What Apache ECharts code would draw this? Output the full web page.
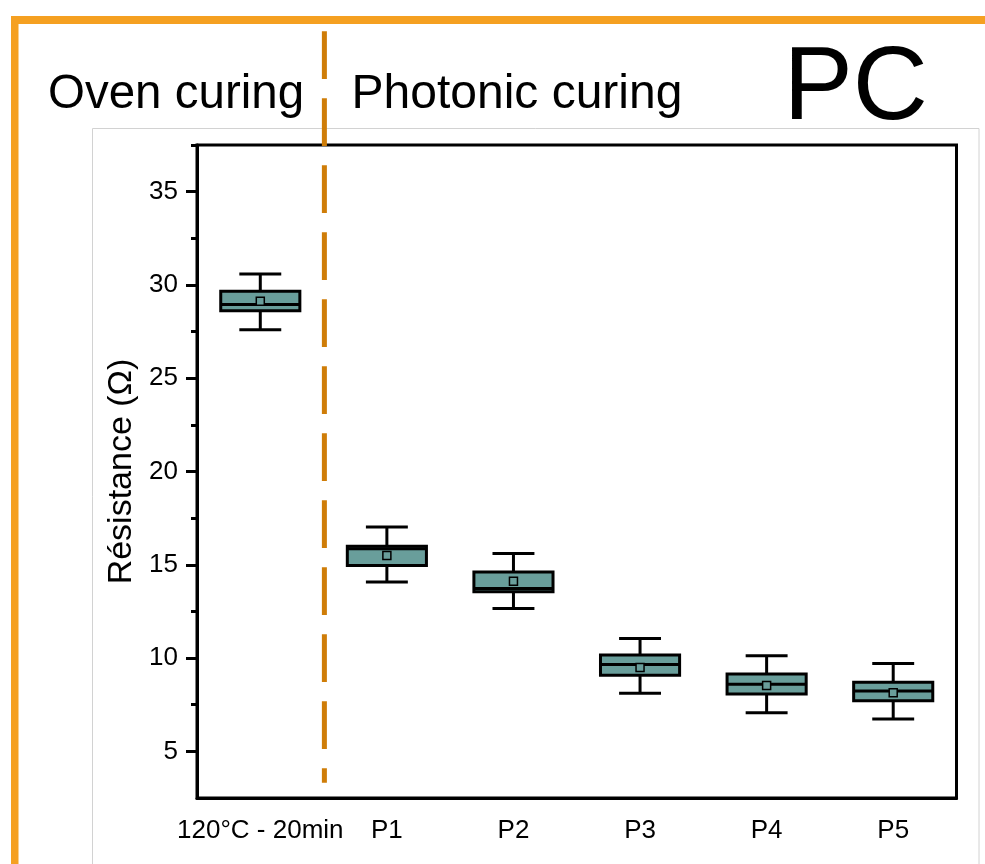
<!DOCTYPE html>
<html>
<head>
<meta charset="utf-8">
<script src="https://cdn.jsdelivr.net/npm/echarts@6/dist/echarts.min.js"></script>
<style>
html,body{margin:0;padding:0;background:#fff;}
#chart{width:985px;height:864px;}
</style>
</head>
<body>
<div id="chart"></div>
<script>
// ---- data ----
const categories = ['120°C - 20min', 'P1', 'P2', 'P3', 'P4', 'P5'];
const whiskerLow  = [27.60, 14.08, 12.66, 8.11, 7.07, 6.73];
const q1Values    = [28.62, 14.96, 13.55, 9.08, 8.07, 7.71];
const medianVals  = [28.95, 15.86, 13.73, 9.66, 8.60, 8.23];
const q3Values    = [29.66, 16.00, 14.61, 10.16, 9.14, 8.71];
const whiskerHigh = [30.59, 17.02, 15.60, 11.05, 10.12, 9.71];
const meanValues  = [29.12, 15.50, 14.12, 9.50, 8.53, 8.14];
const yMajorTicks = [5, 10, 15, 20, 25, 30, 35];
const yMinorTicks = [7.5, 12.5, 17.5, 22.5, 27.5, 32.5, 37.5];
const yRange = [2.5, 37.5];

const FONT = "'Liberation Sans', Arial, Helvetica, sans-serif";
const TEAL = '#699e9b';
const ORANGE = '#f5a021';
const DASH = '#cf7d08';

const boxRows = categories.map((c, i) => [i, whiskerLow[i], q1Values[i], medianVals[i], q3Values[i], whiskerHigh[i]]);
const meanRows = categories.map((c, i) => [i, meanValues[i]]);

function renderBox(params, api) {
  const i = api.value(0);
  const x = api.coord([i, api.value(3)])[0];
  const bw = api.size([1, 0])[0] * 0.625;
  const cw = bw * 0.53;
  const yLo = api.coord([i, api.value(1)])[1];
  const yQ1 = api.coord([i, api.value(2)])[1];
  const yMed = api.coord([i, api.value(3)])[1];
  const yQ3 = api.coord([i, api.value(4)])[1];
  const yHi = api.coord([i, api.value(5)])[1];
  const ls = { stroke: '#000', lineWidth: 3 };
  return {
    type: 'group',
    children: [
      { type: 'line', shape: { x1: x, y1: yQ3, x2: x, y2: yHi }, style: ls },
      { type: 'line', shape: { x1: x, y1: yQ1, x2: x, y2: yLo }, style: ls },
      { type: 'line', shape: { x1: x - cw / 2, y1: yHi, x2: x + cw / 2, y2: yHi }, style: ls },
      { type: 'line', shape: { x1: x - cw / 2, y1: yLo, x2: x + cw / 2, y2: yLo }, style: ls },
      { type: 'rect', shape: { x: x - bw / 2, y: yQ3, width: bw, height: yQ1 - yQ3 },
        style: { fill: TEAL, stroke: '#000', lineWidth: 3 } },
      { type: 'line', shape: { x1: x - bw / 2, y1: yMed, x2: x + bw / 2, y2: yMed }, style: ls }
    ]
  };
}

const chart = echarts.init(document.getElementById('chart'), null, { renderer: 'canvas' });

const option = {
  backgroundColor: '#fff',
  animation: false,
  textStyle: { fontFamily: FONT },
  grid: {
    left: 197, top: 145, right: 28.5, bottom: 66,
    show: true, borderColor: '#000', borderWidth: 3, backgroundColor: 'transparent'
  },
  xAxis: {
    type: 'category',
    data: categories,
    boundaryGap: true,
    axisLine: { lineStyle: { color: '#000', width: 3 } },
    axisTick: { alignWithLabel: true, interval: 0, length: 11, lineStyle: { color: '#000', width: 3 } },
    axisLabel: { interval: 0, color: '#000', fontSize: 26, fontFamily: FONT, margin: 20 },
    splitLine: { show: false }
  },
  yAxis: [
    {
      type: 'value',
      min: yRange[0], max: yRange[1],
      name: 'Résistance (Ω)',
      nameLocation: 'middle',
      nameGap: 51,
      nameTextStyle: { color: '#000', fontSize: 34, fontFamily: FONT },
      axisLine: { show: true, lineStyle: { color: '#000', width: 3 } },
      axisTick: { show: true, customValues: yMajorTicks, length: 11, lineStyle: { color: '#000', width: 3 } },
      axisLabel: { customValues: yMajorTicks, color: '#000', fontSize: 26, fontFamily: FONT, margin: 19 },
      splitLine: { show: false }
    },
    {
      type: 'value',
      min: yRange[0], max: yRange[1],
      position: 'left',
      axisLine: { show: false },
      axisTick: { show: true, customValues: yMinorTicks, length: 6, lineStyle: { color: '#000', width: 3 } },
      axisLabel: { show: false },
      splitLine: { show: false }
    }
  ],
  series: [
    {
      type: 'custom',
      name: 'box',
      xAxisIndex: 0, yAxisIndex: 0,
      renderItem: renderBox,
      encode: { x: 0, y: [1, 2, 3, 4, 5] },
      data: boxRows,
      z: 3
    },
    {
      type: 'scatter',
      name: 'mean',
      xAxisIndex: 0, yAxisIndex: 0,
      data: meanRows,
      symbol: 'rect',
      symbolSize: 8,
      itemStyle: { color: TEAL, borderColor: '#000', borderWidth: 1.5, opacity: 1 },
      z: 5
    }
  ]
};

chart.setOption(option);

// decorations: orange frame, light gray inner frame, texts and the dashed separator
const x0 = chart.convertToPixel({ xAxisIndex: 0 }, 0);
const x1 = chart.convertToPixel({ xAxisIndex: 0 }, 1);
const sepX = (x0 + x1) / 2;

chart.setOption({
  graphic: [
    { type: 'rect', silent: true, z: 0, shape: { x: 92.5, y: 128.5, width: 886.5, height: 740 },
      style: { fill: 'none', stroke: '#d2d2d2', lineWidth: 1 } },
    { type: 'rect', silent: true, z: 10, shape: { x: 11, y: 16, width: 980, height: 8 }, style: { fill: ORANGE } },
    { type: 'rect', silent: true, z: 10, shape: { x: 11, y: 16, width: 7.5, height: 860 }, style: { fill: ORANGE } },
    { type: 'text', silent: true, z: 10, x: 48, y: 95,
      style: { text: 'Oven curing', fill: '#000', font: '47.5px ' + FONT, verticalAlign: 'middle', align: 'left' } },
    { type: 'text', silent: true, z: 10, x: 351.5, y: 95,
      style: { text: 'Photonic curing', fill: '#000', font: '48px ' + FONT, verticalAlign: 'middle', align: 'left' } },
    { type: 'text', silent: true, z: 10, x: 783.5, y: 90,
      style: { text: 'PC', fill: '#000', font: '104px ' + FONT, verticalAlign: 'middle', align: 'left' } },
    { type: 'line', silent: true, z: 20, shape: { x1: sepX + 0.8, y1: 31.3, x2: sepX + 0.8, y2: 782.7 },
      style: { stroke: DASH, lineWidth: 5, lineDash: [47.7, 19.3], lineCap: 'butt' } }
  ]
});
</script>
</body>
</html>
